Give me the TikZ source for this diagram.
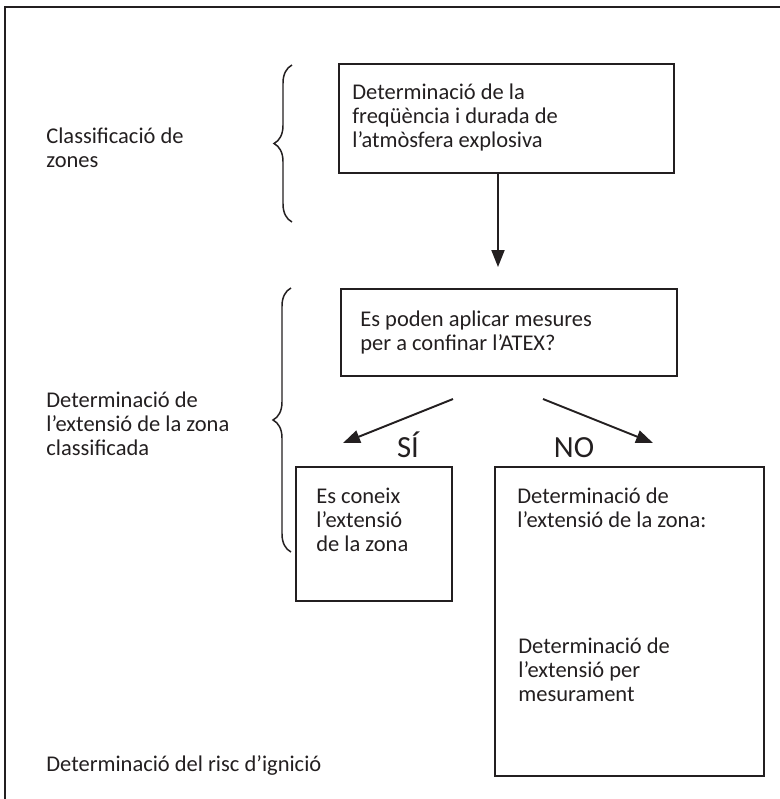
\documentclass[tikz,border=0pt]{standalone}
\usepackage{fontspec}
\setmainfont{Carlito}
\usetikzlibrary{arrows.meta,decorations.pathreplacing}
\definecolor{ink}{HTML}{231F20}

\begin{document}
\begin{tikzpicture}[x=0.02cm,y=-0.02cm,font=\fontsize{12.8}{13.66}\selectfont,
  box/.style={draw=ink,line width=1.4pt,minimum width=#1,inner sep=0pt},
  txt/.style={anchor=base west,align=left,inner sep=0pt,text=ink},
  lbl/.style={font=\fontsize{17.5}{18}\selectfont,text=ink,anchor=base,inner sep=0pt},
  arr/.style={-{Triangle[length=0.34cm,width=0.26cm]},line width=1.1pt,ink},
  brc/.style={decorate,decoration={brace,amplitude=0.36cm},line width=0.85pt,ink}]
  \useasboundingbox (0,0) rectangle (780,799);
  % ===== outer frame (cut off right and bottom) =====
  \draw[ink,line width=1.4pt] (5,799) -- (5,7) -- (780,7);

  % ===== left column (texts placed at the baseline of their last line) =====
  \node[txt] (zones) at (46,167) {Classificació de\\zones};
  \node[txt] (ext) at (46,455) {Determinació de\\l’extensió de la zona\\classificada};
  \node[txt] (risc) at (46,771) {Determinació del risc d’ignició};
  \draw[brc] (292,222) -- (292,65);
  \draw[brc] (291,552) -- (291,288);

  % ===== boxes =====
  \node[box=6.7cm,minimum height=2.18cm] (b1) at (506.5,118.5) {};
  \node[txt] (t1) at (352,147) {Determinació de la\\freqüència i durada de\\l’atmòsfera explosiva};
  \node[box=6.72cm,minimum height=1.74cm] (b2) at (509,332.5) {};
  \node[txt] (t2) at (360,350) {Es poden aplicar mesures\\per a confinar l’ATEX?};
  \node[box=3.12cm,minimum height=2.68cm] (si) at (374,534) {};
  \node[txt] (t3) at (316,551) {Es coneix\\l’extensió\\de la zona};
  \node[box=5.38cm,minimum height=6.18cm] (no) at (629.5,621.5) {};
  \node[txt] (t4) at (517,527) {Determinació de\\l’extensió de la zona:};
  \node[txt] (t5) at (518,701) {Determinació de\\l’extensió per\\mesurament};

  % ===== arrows =====
  \coordinate (a1) at (498,267);
  \draw[arr] (b1.south -| a1) -- (a1);
  \coordinate (s0) at (453,399); \coordinate (s1) at (343,443);
  \coordinate (n0) at (543,399); \coordinate (n1) at (653,443);
  \draw[arr] (s0) -- (s1);
  \draw[arr] (n0) -- (n1);
  \node[lbl] (lsi) at (408,457) {SÍ};
  \node[lbl] (lno) at (574,457) {NO};
\end{tikzpicture}
\end{document}
